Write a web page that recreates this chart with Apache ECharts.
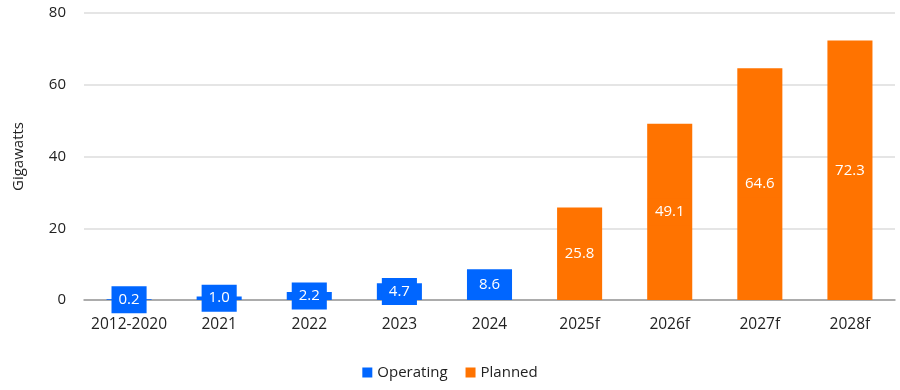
<!DOCTYPE html>
<html><head><meta charset="utf-8">
<script src="https://cdn.jsdelivr.net/npm/echarts@6/dist/echarts.min.js"></script>
<style>html,body{margin:0;padding:0;background:#fff}#c{width:900px;height:390px}</style>
</head><body><div id="c"></div>
<script>
const categories = ['2012-2020','2021','2022','2023','2024','2025f','2026f','2027f','2028f'];
const operating = [0.2, 1.0, 2.2, 4.7, 8.6, null, null, null, null];
const planned = [null, null, null, null, null, 25.8, 49.1, 64.6, 72.3];
const yTicks = {min: 0, max: 80, interval: 20};

const FONT = '"Open Sans", "Noto Sans", sans-serif';
const BLUE = '#0066FF', ORANGE = '#FF7300';
const chart = echarts.init(document.getElementById('c'), null, {renderer: 'canvas'});
function lbl(color){
  return {show: true, position: 'inside', color: '#fff', fontFamily: FONT, fontSize: 15,
    backgroundColor: color, padding: [6, 7, 6, 7],
    formatter: p => p.value == null ? '' : p.value.toFixed(1)};
}
chart.setOption({
  animation: false,
  textStyle: {fontFamily: FONT},
  grid: {left: 84, right: 5, top: 13, bottom: 90, containLabel: false},
  legend: {bottom: 5, left: 'center', itemWidth: 10, itemHeight: 10, itemGap: 18,
    icon: 'rect', textStyle: {fontFamily: FONT, fontSize: 15, color: '#222'},
    data: ['Operating', 'Planned']},
  xAxis: {type: 'category', data: categories,
    axisLine: {lineStyle: {color: '#999', width: 1.5}}, axisTick: {show: false},
    axisLabel: {interval: 0, color: '#222', fontSize: 15.5, fontFamily: FONT, margin: 17}},
  yAxis: {type: 'value', min: yTicks.min, max: yTicks.max, interval: yTicks.interval,
    name: 'Gigawatts', nameLocation: 'middle', nameGap: 58, nameRotate: 90,
    nameTextStyle: {color: '#222', fontSize: 15, fontFamily: FONT},
    axisLine: {show: false}, axisTick: {show: false},
    axisLabel: {color: '#222', fontSize: 15, fontFamily: FONT, margin: 18},
    splitLine: {lineStyle: {color: '#ddd', width: 1.5}}},
  series: [
    {name: 'Operating', type: 'bar', stack: 's', data: operating, barWidth: '50%',
      itemStyle: {color: BLUE}, label: lbl(BLUE)},
    {name: 'Planned', type: 'bar', stack: 's', data: planned, barWidth: '50%',
      itemStyle: {color: ORANGE}, label: lbl(ORANGE)}
  ]
});
</script></body></html>
